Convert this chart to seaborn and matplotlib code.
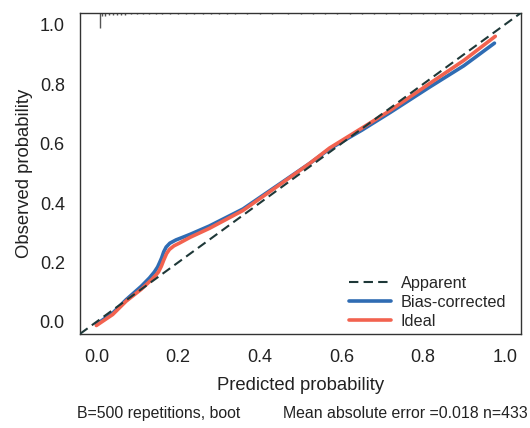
import numpy as np
import pandas as pd
import matplotlib
matplotlib.use("Agg")
import matplotlib.pyplot as plt
import seaborn as sns

sns.set_style("white")
plt.rcParams["font.family"] = ["Liberation Sans", "DejaVu Sans"]

# ── Data ────────────────────────────────────────────────────────────────────
diag_x = [-0.04, 1.04]
diag_y = [-0.04, 1.04]

bias_x = [0.0, 0.04, 0.073, 0.11, 0.13, 0.142, 0.15, 0.155, 0.16, 0.165, 0.171,
          0.18, 0.195, 0.21, 0.23, 0.277, 0.359, 0.44, 0.522, 0.571, 0.65, 0.72,
          0.816, 0.9, 0.975]
bias_y = [-0.008, 0.03, 0.075, 0.12, 0.148, 0.168, 0.185, 0.2, 0.216, 0.236, 0.252,
          0.265, 0.276, 0.284, 0.295, 0.323, 0.38, 0.456, 0.533, 0.582, 0.645, 0.705,
          0.79, 0.862, 0.938]

ideal_x = [0.0, 0.04, 0.073, 0.11, 0.135, 0.146, 0.152, 0.159, 0.165, 0.172, 0.179,
           0.19, 0.203, 0.23, 0.277, 0.359, 0.44, 0.522, 0.571, 0.65, 0.72, 0.816,
           0.9, 0.977]
ideal_y = [-0.012, 0.025, 0.07, 0.11, 0.142, 0.158, 0.168, 0.187, 0.208, 0.23, 0.244,
           0.256, 0.265, 0.285, 0.315, 0.375, 0.453, 0.533, 0.585, 0.652, 0.712, 0.802,
           0.88, 0.961]

# rug of predicted values along the top edge
rug_x = [0.009, 0.015, 0.022, 0.03, 0.04, 0.05, 0.06, 0.07, 0.085, 0.1, 0.115,
         0.13, 0.145, 0.16, 0.18, 0.2, 0.22, 0.24, 0.26, 0.28, 0.3, 0.32, 0.34,
         0.37, 0.4, 0.43, 0.47, 0.5, 0.53, 0.56, 0.59, 0.62, 0.65, 0.68, 0.71,
         0.74, 0.77, 0.8, 0.83, 0.86, 0.89, 0.92, 0.95, 0.97]
rug_h = [0.05, 0.012, 0.01, 0.008, 0.007, 0.006, 0.006, 0.006, 0.005, 0.005, 0.005,
         0.005, 0.004, 0.004, 0.004, 0.004, 0.004, 0.004, 0.004, 0.004, 0.004, 0.004, 0.004,
         0.004, 0.004, 0.004, 0.004, 0.004, 0.004, 0.004, 0.004, 0.004, 0.004, 0.004, 0.004,
         0.004, 0.004, 0.004, 0.004, 0.004, 0.004, 0.004, 0.004, 0.004]

blue, red, dark = "#2f6cb3", "#f2624f", "#1e3838"

df = pd.concat([
    pd.DataFrame({"x": bias_x, "y": bias_y, "curve": "Bias-corrected"}),
    pd.DataFrame({"x": ideal_x, "y": ideal_y, "curve": "Ideal"}),
])

fig = plt.figure(figsize=(5.3, 4.28), dpi=100)
ax = fig.add_axes([0.151, 0.22, 0.832, 0.75])

ax.plot(diag_x, diag_y, color=dark, lw=1.5, dashes=(4.5, 2.5), label="Apparent", zorder=3)
sns.lineplot(data=df, x="x", y="y", hue="curve", sort=False,
             palette={"Bias-corrected": blue, "Ideal": red},
             lw=2.6, ax=ax, legend=False, zorder=2, solid_joinstyle="round")
ax.plot([], [], color=blue, lw=2.6, label="Bias-corrected")
ax.plot([], [], color=red, lw=2.6, label="Ideal")

ax.vlines(rug_x, [1.04 - h for h in rug_h], 1.04, color="#555555", lw=1.0)

ax.set_xlim(-0.04, 1.04)
ax.set_ylim(-0.04, 1.04)
ticks = [0.0, 0.2, 0.4, 0.6, 0.8, 1.0]
ax.set_xticks(ticks)
ax.set_yticks(ticks)
ax.set_xticklabels([f"{t:.1f}" for t in ticks])
ax.set_yticklabels([f"{t:.1f}" for t in ticks])
ax.tick_params(axis="both", direction="out", length=5, width=0.9, colors="#333333",
               labelsize=13, labelcolor="#222222")
ax.tick_params(axis="x", pad=6)
ax.tick_params(axis="y", pad=6)
for s in ax.spines.values():
    s.set_color("#333333")
    s.set_linewidth(1.0)

ax.set_xlabel("Predicted probability", fontsize=13.3, color="#222222", labelpad=8)
ax.set_ylabel("Observed probability", fontsize=13.3, color="#222222", labelpad=5)

ax.legend(loc="lower right", frameon=False, fontsize=11.7, handlelength=2.6,
          handletextpad=0.6, labelspacing=0.25, bbox_to_anchor=(1.0, -0.03))

fig.text(0.145, 0.035, "B=500 repetitions, boot", fontsize=11.4, color="#222222",
         ha="left", va="center")
fig.text(0.995, 0.035, "Mean absolute error =0.018 n=433", fontsize=11.4,
         color="#222222", ha="right", va="center")

fig.savefig("out.png", dpi=100)
